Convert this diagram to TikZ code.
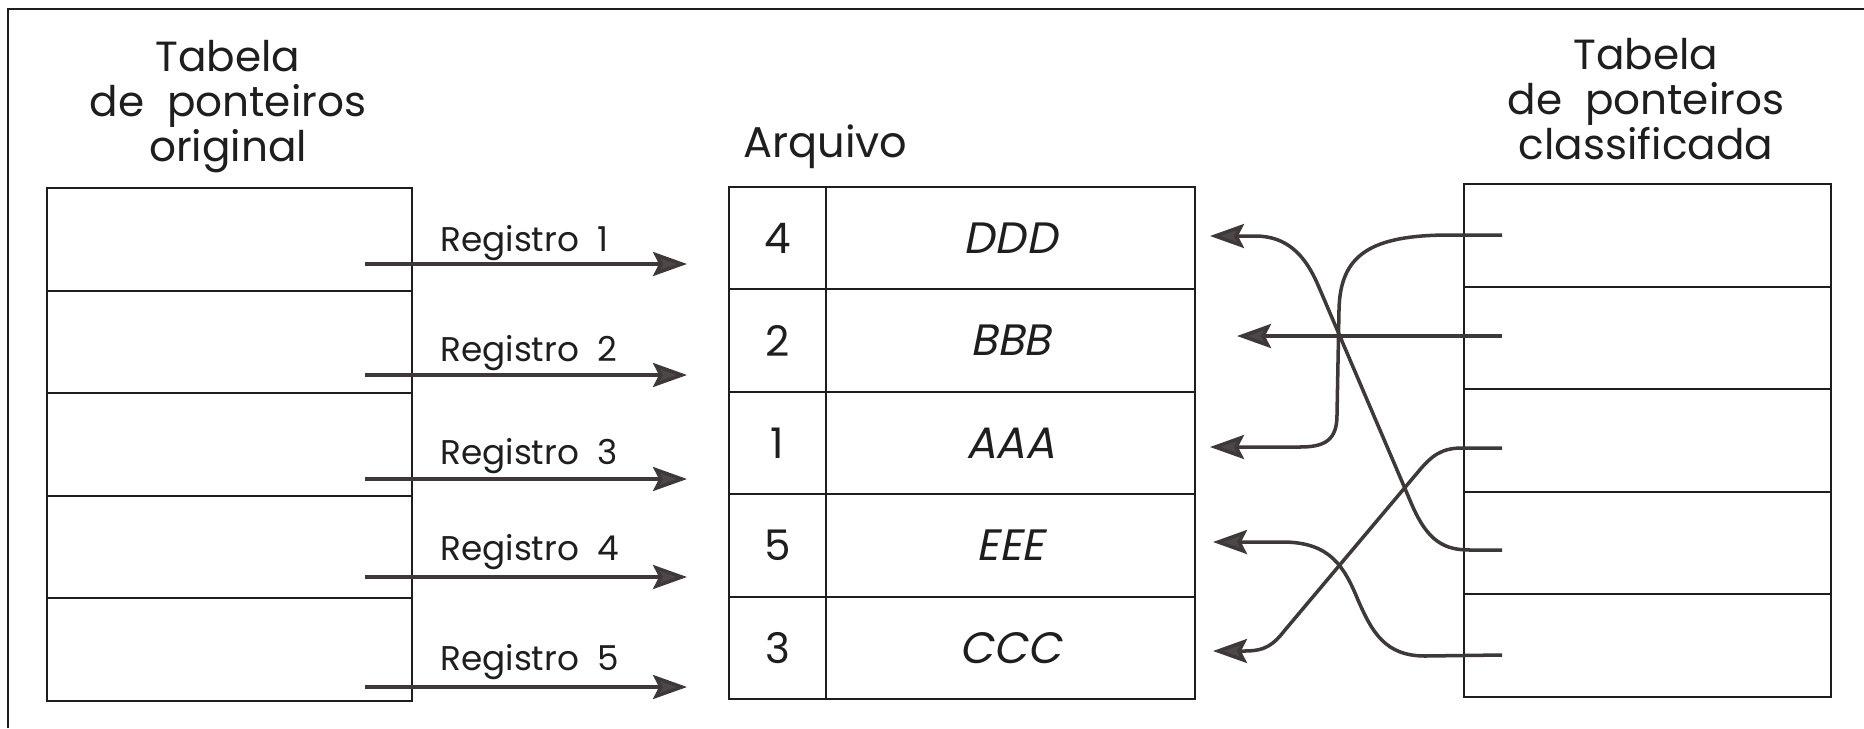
\documentclass[tikz,border=0pt]{standalone}
\usepackage{fontspec}
\setmainfont{Poppins}
\newfontfamily\slantfont{Poppins}[FakeSlant=0.2]
\usetikzlibrary{arrows.meta}
\definecolor{ink}{HTML}{1E1E1E}
\definecolor{wire}{HTML}{3E3838}
\definecolor{tipfill}{HTML}{4E4747}

\begin{document}
\begin{tikzpicture}[x=0.02cm,y=-0.02cm,
  every node/.style={text=ink},
  cell/.style={draw=ink, line width=1.1pt, inner sep=0pt},
  leftrow/.style={cell, minimum width=7.3cm, minimum height=2.052cm},
  rightrow/.style={cell, minimum width=7.34cm, minimum height=2.052cm},
  keycell/.style={cell, minimum width=1.94cm, minimum height=2.048cm,
    font=\fontsize{24}{28}\selectfont},
  datacell/.style={cell, minimum width=7.38cm, minimum height=2.048cm,
    font=\fontsize{25}{28}\selectfont\slantfont},
  heading/.style={align=center, inner sep=0pt, anchor=north,
    font=\fontsize{24}{25.5}\selectfont},
  reglabel/.style={anchor=base west, inner sep=0pt,
    font=\fontsize{19.5}{21}\selectfont},
  ptr/.style={draw=wire, line width=2pt,
    -{Stealth[length=0.68cm, width=0.48cm, inset=0.12cm, fill=tipfill]}}]

\useasboundingbox (0,0) rectangle (1864,728);

% frame of the page (top and left edges)
\draw[ink, line width=1.3pt] (8,728) -- (8,9) -- (1864,9);

% headings
\node[heading] (hleft) at (228,40) {Tabela\\de\ \ ponteiros\\original};
\node[heading] (hright) at (1646,38) {Tabela\\de\ \ ponteiros\\classificada};
\node[anchor=base west, inner sep=0pt, font=\fontsize{24.5}{26}\selectfont]
  (harq) at (743,157) {Arquivo};

% original pointer table
\foreach \i/\y in {1/239.3,2/341.9,3/444.5,4/547.1,5/649.7}
  \node[leftrow] (L\i) at (229.5,\y) {};

% file
\node[keycell] (N1) at (777.5,238.2) {4};
\node[keycell] (N2) at (777.5,340.6) {2};
\node[keycell] (N3) at (777.5,443.0) {1};
\node[keycell] (N4) at (777.5,545.4) {5};
\node[keycell] (N5) at (777.5,647.8) {3};
\node[datacell] (D1) at (1010.5,238.2) {DDD};
\node[datacell] (D2) at (1010.5,340.6) {BBB};
\node[datacell] (D3) at (1010.5,443.0) {AAA};
\node[datacell] (D4) at (1010.5,545.4) {EEE};
\node[datacell] (D5) at (1010.5,647.8) {CCC};

% sorted pointer table
\foreach \i/\y in {1/235.3,2/337.9,3/440.5,4/543.1,5/645.7}
  \node[rightrow] (R\i) at (1647.5,\y) {};

% record labels
\node[reglabel] (g1) at (440,251) {Registro\ \ 1};
\node[reglabel] (g2) at (440,361) {Registro\ \ 2};
\node[reglabel] (g3) at (440,464) {Registro\ \ 3};
\node[reglabel] (g4) at (440,560) {Registro\ \ 4};
\node[reglabel] (g5) at (440,670) {Registro\ \ 5};

% pointer ends
\coordinate (a1) at (365,264); \coordinate (b1) at (687,264);
\coordinate (a2) at (365,375); \coordinate (b2) at (687,375);
\coordinate (a3) at (365,479); \coordinate (b3) at (687,479);
\coordinate (a4) at (365,577); \coordinate (b4) at (687,577);
\coordinate (a5) at (365,687); \coordinate (b5) at (687,687);

\coordinate (r1) at (1502,235);
\coordinate (r2) at (1502,336);
\coordinate (r3) at (1502,448);
\coordinate (r4) at (1502,550);
\coordinate (r5) at (1502,655);

\coordinate (tD) at (1210,236);
\coordinate (tB) at (1237,336);
\coordinate (tA) at (1210,447);
\coordinate (tE) at (1213,542);
\coordinate (tC) at (1213,651);

% original order
\foreach \i in {1,...,5}
  \draw[ptr] (a\i) -- (b\i);

% sorted order
\draw[ptr] (r1) -- (1450,235) .. controls (1370,235) and (1340,255) .. (1339,310)
  -- (1337,415) .. controls (1337,440) and (1325,447) .. (1300,447) -- (tA);
\draw[ptr] (r2) -- (tB);
\draw[ptr] (r3) -- (1462,448) .. controls (1442,448) and (1432,455) .. (1418,472)
  -- (1285,630) .. controls (1274,644) and (1266,651) .. (1245,651) -- (tC);
\draw[ptr] (r4) -- (1470,550) .. controls (1445,550) and (1428,542) .. (1412,505)
  -- (1318,285) .. controls (1305,255) and (1287,236) .. (1255,236) -- (tD);
\draw[ptr] (r5) -- (1425,656) .. controls (1385,656) and (1372,632) .. (1358,600)
  .. controls (1344,566) and (1330,543) .. (1285,542) -- (tE);
\end{tikzpicture}
\end{document}
